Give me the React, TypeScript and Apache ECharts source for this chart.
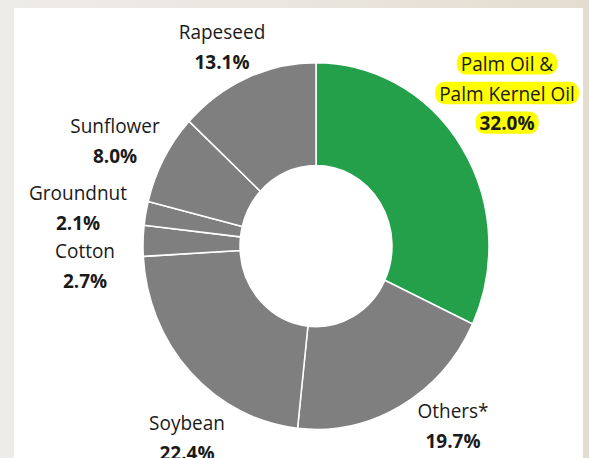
import React, { useEffect, useRef } from "react";
import * as echarts from "echarts";

const categories = ["Palm Oil &\nPalm Kernel Oil", "Others*", "Soybean", "Cotton", "Groundnut", "Sunflower", "Rapeseed"];
const shares = [32.0, 19.7, 22.4, 2.7, 2.1, 8.0, 13.1];
const highlighted = [true, false, false, false, false, false, false];

// label block centres in page pixels (layout only)
const LABEL_POS: [number, number][] = [
  [507, 93],
  [453, 425],
  [187, 437],
  [85, 265],
  [78, 207],
  [115, 140],
  [222, 46],
];

const SY = 1.06; // vertical stretch of the reference picture
const W = 589;
const H = 458;

export default function App() {
  const ref = useRef<HTMLDivElement>(null);
  useEffect(() => {
    if (!ref.current) return;
    const chart = echarts.init(ref.current, undefined, { renderer: "svg" });
    const green = "#24A04B";
    const gray = "#7F7F7F";
    const data = categories.map((name, i) => {
      const hl = highlighted[i];
      const nameTxt = name
        .split("\n")
        .map((l) => `{${hl ? "hn" : "n"}|${l}}`)
        .join("\n");
      return {
        name,
        value: shares[i],
        itemStyle: { color: hl ? green : gray },
        label: {
          formatter: `${nameTxt}\n{${hl ? "hv" : "v"}|${shares[i].toFixed(1)}%}`,
        },
      };
    });
    const base = { fontFamily: "Open Sans", fontSize: 19, color: "#1a1a1a", lineHeight: 28 };
    const hlBase = { ...base, lineHeight: 28, backgroundColor: "#FFFF00", borderRadius: 9, padding: [1, 4, 1, 4] };
    chart.setOption({
      animation: false,
      backgroundColor: "transparent",
      series: [
        {
          type: "pie",
          center: [316, 246 / SY],
          radius: [76, 173],
          startAngle: 90,
          clockwise: true,
          avoidLabelOverlap: false,
          itemStyle: { borderColor: "#ffffff", borderWidth: 1.5 },
          label: {
            show: true,
            position: "outside",
            rich: {
              n: { ...base },
              v: { ...base, fontWeight: "bold" },
              hn: { ...hlBase },
              hv: { ...hlBase, fontWeight: "bold" },
            },
          },
          labelLine: { show: false },
          labelLayout: (params: any) => {
            const p = LABEL_POS[params.dataIndex];
            return { x: p[0], y: p[1] / SY, align: "center", verticalAlign: "middle" };
          },
          emphasis: { disabled: true },
          data,
        },
      ],
    });
    return () => chart.dispose();
  }, []);

  return (
    <div
      style={{
        position: "fixed",
        left: 0,
        top: 0,
        width: W,
        height: H,
        overflow: "hidden",
        background: "linear-gradient(90deg, #EEECE8 0%, #EAE6DF 50%, #E4DCCF 100%)",
      }}
    >
      <div style={{ position: "absolute", left: 14, top: 8, width: 569, height: 450, background: "#ffffff" }} />
      <div
        ref={ref}
        style={{
          position: "absolute",
          left: 0,
          top: 0,
          width: W,
          height: H / SY,
          transform: `scaleY(${SY})`,
          transformOrigin: "0 0",
        }}
      />
    </div>
  );
}
